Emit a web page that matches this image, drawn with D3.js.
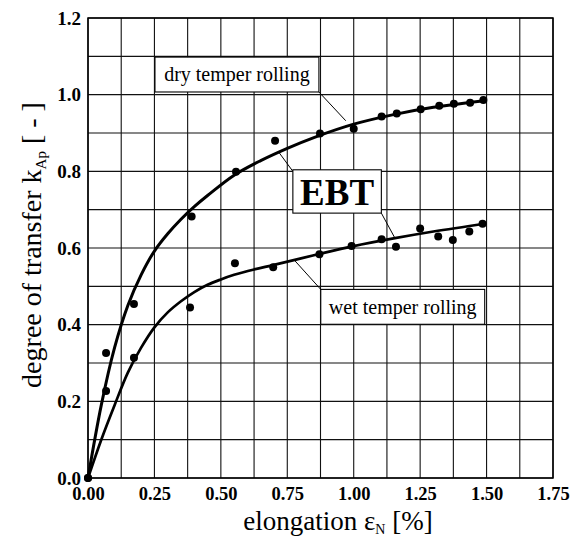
<!DOCTYPE html>
<html><head><meta charset="utf-8">
<script src="https://cdn.jsdelivr.net/npm/d3@7"></script>
<style>
html,body{margin:0;padding:0;background:#fff;}
svg{display:block;font-family:"Liberation Serif","Times New Roman",serif;}
</style></head>
<body><svg id="c" width="575" height="541"></svg>
<script>
// ---- data ----
const xTickValues = [0, 0.25, 0.5, 0.75, 1.0, 1.25, 1.5, 1.75];
const xTickLabels = ["0.00","0.25","0.50","0.75","1.00","1.25","1.50","1.75"];
const yTickValues = [0, 0.2, 0.4, 0.6, 0.8, 1.0, 1.2];
const yTickLabels = ["0.0","0.2","0.4","0.6","0.8","1.0","1.2"];

const dryX = [0, 0.068, 0.173, 0.39, 0.557, 0.704, 0.873, 1.0, 1.105, 1.162, 1.252, 1.322, 1.377, 1.438, 1.488];
const dryY = [0, 0.326, 0.454, 0.682, 0.799, 0.880, 0.899, 0.911, 0.943, 0.951, 0.962, 0.971, 0.976, 0.979, 0.986];
const wetX = [0, 0.068, 0.173, 0.384, 0.553, 0.697, 0.871, 0.992, 1.105, 1.159, 1.25, 1.318, 1.373, 1.435, 1.485];
const wetY = [0, 0.227, 0.314, 0.445, 0.560, 0.550, 0.584, 0.605, 0.623, 0.603, 0.651, 0.630, 0.621, 0.643, 0.663];

// fitted curves
const dryFitX = [0, 0.05, 0.1, 0.15, 0.2, 0.25, 0.3, 0.35, 0.4, 0.45, 0.55, 0.65, 0.75, 0.85, 1.0, 1.15, 1.3, 1.5];
const dryFitY = [0, 0.19, 0.34, 0.45, 0.53, 0.592, 0.637, 0.675, 0.708, 0.737, 0.79, 0.828, 0.86, 0.888, 0.923, 0.948, 0.967, 0.985];
const wetFitX = [0, 0.05, 0.1, 0.15, 0.2, 0.25, 0.3, 0.35, 0.4, 0.45, 0.5, 0.55, 0.625, 0.7, 0.85, 1.0, 1.15, 1.3, 1.5];
const wetFitY = [0, 0.10, 0.19, 0.275, 0.34, 0.393, 0.432, 0.461, 0.485, 0.504, 0.518, 0.53, 0.544, 0.556, 0.581, 0.605, 0.625, 0.643, 0.664];

const labelDry = "dry temper rolling";
const labelWet = "wet temper rolling";
const labelMain = "EBT";

// ---- chart ----
const svg = d3.select("#c");
const L = 88, R = 553, T = 18, B = 478;
const x = d3.scaleLinear().domain([0, 1.75]).range([L, R]);
const y = d3.scaleLinear().domain([0, 1.2]).range([B, T]);

// grid
const g = svg.append("g");
d3.range(0, 15).forEach(i => {
  const v = i * 0.125;
  g.append("line").attr("x1", x(v)).attr("x2", x(v)).attr("y1", T).attr("y2", B)
    .attr("stroke", "#111").attr("stroke-width", 1.1);
});
d3.range(0, 13).forEach(i => {
  const v = i * 0.1;
  g.append("line").attr("x1", L).attr("x2", R).attr("y1", y(v)).attr("y2", y(v))
    .attr("stroke", "#111").attr("stroke-width", 1.1);
});
svg.append("rect").attr("x", L).attr("y", T).attr("width", R - L).attr("height", B - T)
  .attr("fill", "none").attr("stroke", "#000").attr("stroke-width", 1.5);

// axes tick labels via d3 axes
const xAxis = d3.axisBottom(x).tickValues(xTickValues)
  .tickFormat((d, i) => xTickLabels[i]).tickSize(0).tickPadding(7);
const xa = svg.append("g").attr("transform", `translate(0,${B})`).call(xAxis);
xa.select(".domain").remove();
xa.selectAll("text").attr("font-family", "Liberation Serif").attr("font-size", 18.5)
  .attr("font-weight", "bold").attr("fill", "#000").attr("dy", "0.8em");

const yAxis = d3.axisLeft(y).tickValues(yTickValues)
  .tickFormat((d, i) => yTickLabels[i]).tickSize(0).tickPadding(7);
const ya = svg.append("g").attr("transform", `translate(${L},0)`).call(yAxis);
ya.select(".domain").remove();
ya.selectAll("text").attr("font-family", "Liberation Serif").attr("font-size", 19)
  .attr("font-weight", "bold").attr("fill", "#000");

// axis titles
const xt = svg.append("text").attr("x", 338).attr("y", 530).attr("text-anchor", "middle")
  .attr("font-size", 27).attr("fill", "#000");
xt.append("tspan").text("elongation ε");
xt.append("tspan").attr("font-size", 14).attr("dy", 4).text("N");
xt.append("tspan").attr("dy", -4).text(" [%]");

const yt = svg.append("text").attr("transform", "translate(41,245) rotate(-90)")
  .attr("text-anchor", "middle").attr("font-size", 28).attr("fill", "#000");
yt.append("tspan").text("degree of transfer k");
yt.append("tspan").attr("font-size", 15).attr("dy", 5).text("Ap");
yt.append("tspan").attr("dy", -5).text(" [ - ]");

// fit curves
const line = d3.line().x(d => x(d[0])).y(d => y(d[1])).curve(d3.curveCatmullRom.alpha(0.5));
svg.append("path").datum(dryFitX.map((v, i) => [v, dryFitY[i]])).attr("d", line)
  .attr("fill", "none").attr("stroke", "#000").attr("stroke-width", 3);
svg.append("path").datum(wetFitX.map((v, i) => [v, wetFitY[i]])).attr("d", line)
  .attr("fill", "none").attr("stroke", "#000").attr("stroke-width", 2.7);

// points
function pts(xs, ys) {
  svg.append("g").selectAll("circle").data(xs.map((v, i) => [v, ys[i]])).join("circle")
    .attr("cx", d => x(d[0])).attr("cy", d => y(d[1])).attr("r", 4).attr("fill", "#000");
}
pts(dryX, dryY);
pts(wetX, wetY);

// annotations (in data coordinates)
function leader(x1, y1, x2, y2) {
  svg.append("line").attr("x1", x(x1)).attr("y1", y(y1)).attr("x2", x(x2)).attr("y2", y(y2))
    .attr("stroke", "#000").attr("stroke-width", 1);
}
function box(x0, y0, x1, y1, txt, fs, bold, ty) {
  svg.append("rect").attr("x", x(x0)).attr("y", y(y0)).attr("width", x(x1) - x(x0))
    .attr("height", y(y1) - y(y0)).attr("fill", "#fff").attr("stroke", "#000").attr("stroke-width", 1.1);
  svg.append("text").attr("x", (x(x0) + x(x1)) / 2).attr("y", y(ty)).attr("text-anchor", "middle")
    .attr("font-size", fs).attr("font-weight", bold ? "bold" : "normal").attr("fill", "#000").text(txt);
}
leader(0.869, 1.007, 0.97, 0.932);
leader(0.771, 0.8, 0.72, 0.848);
leader(1.104, 0.691, 1.155, 0.626);
leader(0.876, 0.492, 0.777, 0.568);

box(0.252, 1.098, 0.869, 1.007, labelDry, 20, false, 1.035);
box(0.771, 0.804, 1.104, 0.691, labelMain, 37, true, 0.712);
box(0.876, 0.492, 1.493, 0.401, labelWet, 20, false, 0.428);
</script></body></html>
